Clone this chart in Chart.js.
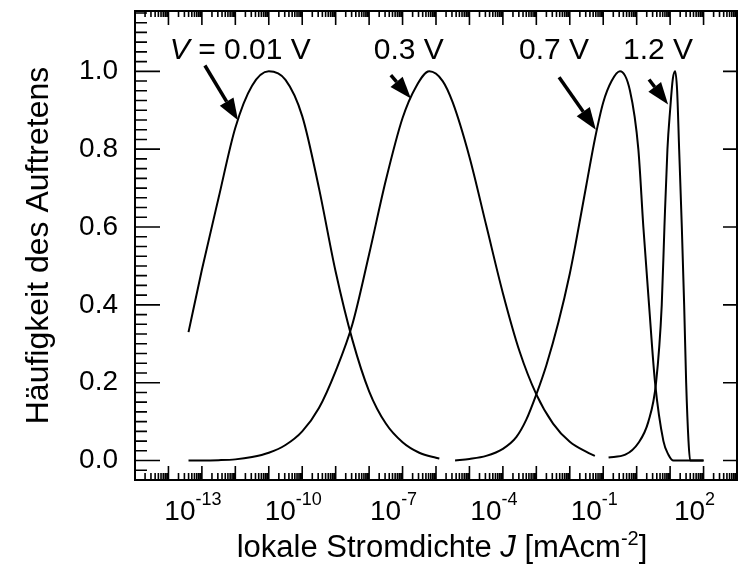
<!DOCTYPE html>
<html>
<head>
<meta charset="utf-8">
<script src="https://cdn.jsdelivr.net/npm/chart.js@4.4.1/dist/chart.umd.min.js"></script>
<style>
  html, body { margin: 0; padding: 0; background: #fff; }
  canvas { display: block; }
</style>
</head>
<body>
<canvas id="myChart" width="738" height="571"></canvas>
<script>
const FONT = "'Liberation Sans', Arial, sans-serif";

// axis ranges (x in decades of mA/cm²)
const xMinExp = -15;
const xMaxExp = 3;
const yMin = -0.05;
const yMax = 1.155;
const yMinorStep = 0.025;

// tick labels
const xTickExp = [-13, -10, -7, -4, -1, 2];
const yTickVals = [0, 0.2, 0.4, 0.6, 0.8, 1.0];

// V = 0.01 V  (log10 J, normalised frequency)
const logJ_001 = [-13.4, -13.0, -12.5, -12.0, -11.5, -11.0, -10.5, -10.0, -9.5, -9.0, -8.5, -8.0, -7.5, -7.0, -6.5, -6.0, -5.9];
const freq_001 = [0.33, 0.49, 0.675, 0.855, 0.963, 1.0, 0.978, 0.885, 0.70, 0.485, 0.31, 0.178, 0.095, 0.047, 0.02, 0.007, 0.005];

// 0.3 V
const logJ_03 = [-13.4, -12.5, -12.0, -11.5, -11.0, -10.5, -10.0, -9.5, -9.0, -8.5, -8.0, -7.5, -7.0, -6.6, -6.2, -5.8, -5.5, -5.0, -4.5, -4.0, -3.5, -3.0, -2.5, -2.0, -1.5, -1.25];
const freq_03 = [0.0, 0.001, 0.003, 0.009, 0.02, 0.04, 0.075, 0.135, 0.23, 0.35, 0.53, 0.72, 0.88, 0.96, 1.0, 0.975, 0.92, 0.78, 0.605, 0.43, 0.28, 0.17, 0.095, 0.048, 0.022, 0.012];

// 0.7 V
const logJ_07 = [-5.43, -5.0, -4.5, -4.0, -3.6, -3.3, -3.0, -2.7, -2.34, -2.0, -1.84, -1.5, -1.24, -1.0, -0.75, -0.5, -0.2, 0.05, 0.2, 0.37, 0.55, 0.8, 0.95, 1.1, 1.5, 2.0];
const freq_07 = [0.0, 0.004, 0.012, 0.03, 0.06, 0.105, 0.17, 0.245, 0.355, 0.48, 0.55, 0.71, 0.83, 0.92, 0.975, 1.0, 0.95, 0.80, 0.60, 0.40, 0.20, 0.05, 0.015, 0.0, 0.0, 0.0];

// 1.2 V
const logJ_12 = [-0.84, -0.34, 0.05, 0.35, 0.58, 0.75, 0.83, 0.92, 1.0, 1.08, 1.15, 1.21, 1.27, 1.35, 1.42, 1.48, 1.55, 1.6, 2.0];
const freq_12 = [0.008, 0.015, 0.045, 0.1, 0.2, 0.4, 0.6, 0.8, 0.9, 0.98, 1.0, 0.95, 0.8, 0.6, 0.4, 0.2, 0.05, 0.0, 0.0];

// voltage labels with arrows (data coordinates: log10 J, frequency)
const annItalic = ['V', '', '', ''];
const annText = [' = 0.01 V', '0.3 V', '0.7 V', '1.2 V'];
const annX = [-13.96, -7.86, -3.52, -0.41];
const annY = [1.031, 1.031, 1.031, 1.031];
const arrowFrom = [[-12.91, 1.015], [-7.35, 0.99], [-2.32, 0.985], [0.37, 0.979]];
const arrowTo = [[-11.92, 0.874], [-6.75, 0.93], [-1.22, 0.85], [0.94, 0.915]];


function series(logJ, freq) {
    return logJ.map((e, i) => ({ x: Math.pow(10, e), y: freq[i] }));
}

function lineCfg(data) {
    return {
        data: data,
        borderColor: '#000',
        borderWidth: 2,
        pointRadius: 0,
        fill: false,
        cubicInterpolationMode: 'monotone'
    };
}

// draws text pieces one after the other (normal / italic / superscript)
function drawParts(ctx, parts, x, y, align) {
    let total = 0;
    parts.forEach(p => {
        ctx.font = (p.italic ? 'italic ' : '') + p.size + 'px ' + FONT;
        p.w = ctx.measureText(p.t).width;
        total += p.w;
    });
    let cx = align === 'center' ? x - total / 2 : x;
    ctx.textAlign = 'left';
    ctx.textBaseline = 'alphabetic';
    parts.forEach(p => {
        ctx.font = (p.italic ? 'italic ' : '') + p.size + 'px ' + FONT;
        ctx.fillText(p.t, cx, y + (p.dy || 0));
        cx += p.w;
    });
}

function arrow(ctx, x1, y1, x2, y2) {
    const ang = Math.atan2(y2 - y1, x2 - x1);
    const hl = 22, hw = 8;
    const bx = x2 - hl * Math.cos(ang), by = y2 - hl * Math.sin(ang);
    ctx.lineWidth = 3.5;
    ctx.beginPath();
    ctx.moveTo(x1, y1);
    ctx.lineTo(bx, by);
    ctx.stroke();
    ctx.beginPath();
    ctx.moveTo(x2, y2);
    ctx.lineTo(bx + hw * Math.sin(ang), by - hw * Math.cos(ang));
    ctx.lineTo(bx - hw * Math.sin(ang), by + hw * Math.cos(ang));
    ctx.closePath();
    ctx.fill();
}

// frame, inward ticks, x labels, x title and annotations
const decor = {
    id: 'decor',
    afterDraw(chart) {
        const { ctx, chartArea: a } = chart;
        const xs = chart.scales.x, ys = chart.scales.y;
        ctx.save();
        ctx.strokeStyle = '#000';
        ctx.fillStyle = '#000';

        ctx.lineWidth = 1.6;
        ctx.beginPath();
        for (let e = xMinExp; e < xMaxExp; e++) {
            for (let m = 1; m < 10; m++) {
                const px = xs.getPixelForValue(m * Math.pow(10, e));
                const major = m === 1;
                ctx.moveTo(px, a.bottom);
                ctx.lineTo(px, a.bottom - (major ? 14 : 7));
                ctx.moveTo(px, a.top);
                ctx.lineTo(px, a.top + (major ? 14 : 6));
            }
        }
        for (let k = -2; k * yMinorStep <= yMax + 1e-9; k++) {
            const py = ys.getPixelForValue(k * yMinorStep);
            const major = k % 8 === 0;
            ctx.moveTo(a.left, py);
            ctx.lineTo(a.left + (major ? 25 : 12), py);
            if (major) {
                ctx.moveTo(a.right, py);
                ctx.lineTo(a.right - 14, py);
            }
        }
        ctx.stroke();

        ctx.lineWidth = 2;
        ctx.strokeRect(a.left, a.top, a.right - a.left, a.bottom - a.top);

        // x tick labels 10^n
        xTickExp.forEach(e => {
            const px = xs.getPixelForValue(Math.pow(10, e));
            drawParts(ctx, [
                { t: '10', size: 28 },
                { t: String(e), size: 18, dy: -15 }
            ], px - 9, a.bottom + 40, 'center');
        });

        // x title
        drawParts(ctx, [
            { t: 'lokale Stromdichte ', size: 31 },
            { t: 'J', size: 31, italic: true },
            { t: ' [mAcm', size: 31 },
            { t: '-2', size: 20, dy: -12 },
            { t: ']', size: 31 }
        ], (a.left + a.right) / 2 + 6, a.bottom + 77, 'center');

        // voltage labels and arrows
        annText.forEach((t, i) => {
            const parts = [];
            if (annItalic[i]) parts.push({ t: annItalic[i], size: 30, italic: true });
            parts.push({ t: t, size: 30 });
            drawParts(ctx, parts, xs.getPixelForValue(Math.pow(10, annX[i])), ys.getPixelForValue(annY[i]), 'left');
            arrow(ctx,
                xs.getPixelForValue(Math.pow(10, arrowFrom[i][0])), ys.getPixelForValue(arrowFrom[i][1]),
                xs.getPixelForValue(Math.pow(10, arrowTo[i][0])), ys.getPixelForValue(arrowTo[i][1]));
        });
        ctx.restore();
    }
};

Chart.defaults.font.family = FONT;
Chart.defaults.color = '#000';

const ctx = document.getElementById('myChart').getContext('2d');
const chart = new Chart(ctx, {
    type: 'line',
    data: {
        datasets: [
            lineCfg(series(logJ_001, freq_001)),
            lineCfg(series(logJ_03, freq_03)),
            lineCfg(series(logJ_07, freq_07)),
            lineCfg(series(logJ_12, freq_12))
        ]
    },
    options: {
        responsive: false,
        animation: false,
        devicePixelRatio: 1,
        layout: { padding: { top: 11, right: 1, left: 0, bottom: 0 } },
        plugins: {
            legend: { display: false },
            tooltip: { enabled: false }
        },
        scales: {
            x: {
                type: 'logarithmic',
                min: Math.pow(10, xMinExp),
                max: Math.pow(10, xMaxExp),
                grid: { display: false },
                border: { display: false },
                ticks: { display: false },
                afterBuildTicks: s => { s.ticks = xTickExp.map(e => ({ value: Math.pow(10, e) })); },
                afterFit: s => { s.height = 91; s.paddingLeft = 0; s.paddingRight = 0; }
            },
            y: {
                min: yMin,
                max: yMax,
                grid: { display: false, drawTicks: false },
                border: { display: false },
                ticks: {
                    padding: 17,
                    font: { size: 28 },
                    color: '#000',
                    callback: v => v.toFixed(1)
                },
                title: {
                    display: true,
                    text: 'Häufigkeit des Auftretens',
                    font: { size: 32 },
                    color: '#000',
                    padding: { top: 20, bottom: 0 }
                },
                afterBuildTicks: s => { s.ticks = yTickVals.map(v => ({ value: v })); },
                afterFit: s => { s.width = 135; s.paddingTop = 0; s.paddingBottom = 0; }
            }
        }
    },
    plugins: [decor]
});
</script>
</body>
</html>
